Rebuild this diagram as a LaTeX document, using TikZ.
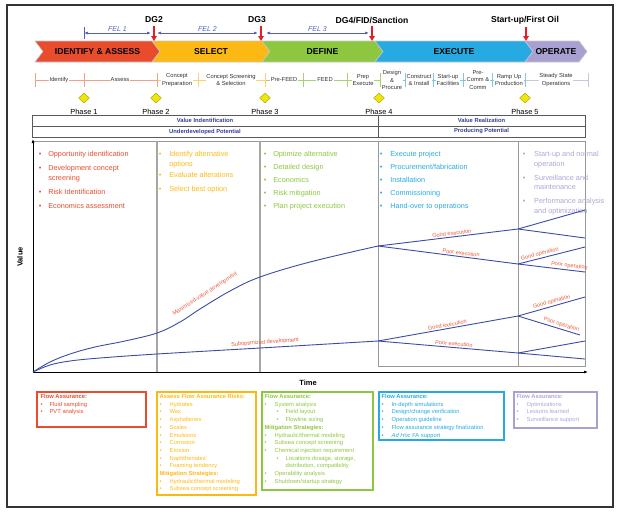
\documentclass[tikz,border=0pt]{standalone}
\usepackage{fontspec}
\setmainfont{Liberation Sans}
\usepackage{tikz}
\usetikzlibrary{arrows.meta}
\usetikzlibrary{positioning,shapes.geometric}

\definecolor{iared}{RGB}{232,76,45}
\definecolor{selyel}{RGB}{253,185,19}
\definecolor{defgrn}{RGB}{141,198,63}
\definecolor{exeblu}{RGB}{39,170,225}
\definecolor{opepur}{RGB}{168,160,208}
\definecolor{purtxt}{RGB}{172,165,212}
\definecolor{curveblu}{RGB}{58,76,165}
\definecolor{felblu}{RGB}{80,96,180}
\definecolor{gatered}{RGB}{228,30,38}
\definecolor{lblred}{RGB}{235,90,60}
\definecolor{bandblu}{RGB}{50,62,150}
\definecolor{phaseyel}{RGB}{240,228,10}
\definecolor{actred}{RGB}{240,160,140}
\definecolor{actyel}{RGB}{252,210,105}
\definecolor{actgrn}{RGB}{168,212,111}
\definecolor{actblu}{RGB}{124,200,236}
\definecolor{actpur}{RGB}{201,196,226}

\newcommand{\blist}[2][6.8pt]{\begin{tabular}[t]{@{}l@{\hspace{#1}}l@{}}#2\end{tabular}}
\newcommand{\bhead}[1]{\multicolumn{2}{@{}l@{}}{\bfseries #1}}
\newcommand{\subitm}[1]{\hspace{2pt}\textbullet\hspace{7pt}#1}

\begin{document}
\begin{tikzpicture}[x=1pt,y=-1pt]
  \tikzset{chev/.style = {draw=gray!45, line width=0.6pt}}
  \tikzset{chevtxt/.style = {font=\fontsize{8.6}{10}\selectfont\bfseries, inner sep=0pt}}
  \tikzset{gatelbl/.style = {font=\fontsize{8.6}{10}\selectfont\bfseries, inner sep=1pt}}
  \tikzset{gate/.style = {-{Triangle[length=5pt,width=5.5pt]}, gatered, line width=1.5pt, shorten <=2pt}}
  \tikzset{fel/.style = {{Latex[length=4pt,width=3pt]}-{Latex[length=4pt,width=3pt]}, felblu, line width=0.7pt}}
  \tikzset{fellbl/.style = {font=\fontsize{7}{8}\selectfont\itshape, text=felblu, inner sep=1pt}}
  \tikzset{actline/.style = {line width=0.8pt}}
  \tikzset{actlbl/.style = {font=\fontsize{5.8}{7.6}\selectfont, align=center, fill=white, inner sep=0.8pt, text=black!80}}
  \tikzset{phase/.style = {shape=diamond, fill=phaseyel, draw=phaseyel!70!black, line width=0.4pt, minimum width=11pt, minimum height=10pt, inner sep=0pt}}
  \tikzset{phaselbl/.style = {font=\fontsize{7.4}{9}\selectfont, inner sep=0.5pt}}
  \tikzset{band/.style = {draw=black!65, line width=0.8pt}}
  \tikzset{bandtxt/.style = {font=\fontsize{5.8}{7}\selectfont\bfseries, text=bandblu, inner sep=0pt}}
  \tikzset{panel/.style = {draw=black!40, line width=0.7pt}}
  \tikzset{divider/.style = {draw=black!35, line width=1.3pt}}
  \tikzset{axis/.style = {-{Latex[length=4pt,width=3pt]}, line width=0.7pt}}
  \tikzset{axislbl/.style = {font=\fontsize{7.5}{9}\selectfont\bfseries, inner sep=0pt}}
  \tikzset{coltxt/.style = {font=\fontsize{7.3}{9.5}\selectfont, anchor=base west, inner sep=0pt}}
  \tikzset{curve/.style = {curveblu, line width=0.9pt}}
  \tikzset{curvelbl/.style = {font=\fontsize{5.6}{6.5}\selectfont, text=lblred, inner sep=1.2pt}}
  \tikzset{fabox/.style = {shape=rectangle, draw, line width=1.2pt, inner sep=0pt}}
  \tikzset{fatxt/.style = {font=\fontsize{5.8}{7.7}\selectfont, anchor=north west, inner sep=1.5pt, xshift=1.5pt}}

  \useasboundingbox (0,0) rectangle (620,512);
  \draw[line width=1.6pt, black!80] (7,5) rectangle (613,507);

  % stage chevrons
  \foreach \name/\xa/\xb/\col/\txt in {ia/35/152/iared/IDENTIFY \& ASSESS, sel/152/262/selyel/SELECT,
      def/262/375/defgrn/DEFINE, exe/375/525/exeblu/EXECUTE, ope/525/579/opepur/OPERATE}
  {
    \filldraw[chev, fill=\col] (\xa,41) -- (\xb,41) -- ({\xb+8},51.5) -- (\xb,62) -- (\xa,62) -- ({\xa+8},51.5) -- cycle;
    \node[chevtxt] (\name) at ({(\xa+\xb)/2+4},51.5) {\txt};
  }

  % decision gates
  \node[gatelbl] (dg2) at (154,20) {DG2};
  \node[gatelbl] (dg3) at (257,20) {DG3};
  \node[gatelbl] (dg4) at (372,20) {DG4/FID/Sanction};
  \node[gatelbl] (fo) at (525,20) {Start-up/First Oil};
  \coordinate (g2) at (154,41);
  \coordinate (g3) at (261,41);
  \coordinate (g4) at (372,41);
  \coordinate (g5) at (526,41);
  \foreach \from/\to in {dg2/g2, dg3/g3, dg4/g4, fo/g5}
    \draw[gate] (\from.south -| \to) -- (\to);

  % front-end loading
  \coordinate (f1a) at (84,33);
  \coordinate (f1b) at (151,33);
  \coordinate (f2a) at (157,33);
  \coordinate (f2b) at (258,33);
  \coordinate (f3a) at (266,33);
  \coordinate (f3b) at (369,33);
  \draw[felblu, line width=0.7pt] ([yshift=6pt]f1a) -- ([yshift=-6pt]f1a);
  \draw[fel] (f1a) -- node[fellbl, above] (fel1) {FEL 1} (f1b);
  \draw[fel] (f2a) -- node[fellbl, above] (fel2) {FEL 2} (f2b);
  \draw[fel] (f3a) -- node[fellbl, above] (fel3) {FEL 3} (f3b);

  % activities
  \foreach \xa/\xb/\col in {35/157/actred, 157/265/actyel, 265/380/actgrn, 380/525/actblu, 525/588/actpur}
    \draw[actline, \col] (\xa,80) -- (\xb,80);
  \foreach \x/\col in {35/actred, 84/actred, 157/actred, 198/actyel, 265/actyel, 303/actgrn, 347/actgrn,
      380/actgrn, 405/actblu, 433/actblu, 463/actblu, 492/actblu, 525/actblu, 588/actpur}
    \draw[actline, \col] (\x,73) -- (\x,87);
  \foreach \name/\x/\txt in {aid/59/Identify, aas/120/Assess, acp/177/{Concept\\Preparation},
      acs/231/{Concept Screening\\\& Selection}, apf/284/Pre-FEED, afd/325/FEED, ape/363/{Prep\\Execute},
      adp/392/{Design\\\&\\Procure}, aci/419/{Construct\\\& Install}, asf/448/{Start-up\\Facilities},
      apc/478/{Pre-\\Comm \&\\Comm}, aru/509/{Ramp Up\\Production}, aso/556/{Steady State\\Operations}}
    \node[actlbl] (\name) at (\x,80) {\txt};

  % phases
  \foreach \name/\x/\n in {p1/84/1, p2/156/2, p3/265/3, p4/379/4, p5/525/5}
  {
    \node[phase] (\name) at (\x,98) {};
    \node[phaselbl, below=5pt of \name] (\name lbl) {Phase \n};
  }

  % value band
  \draw[band] (32,115) rectangle (585,137);
  \draw[band] (32,126) -- (585,126);
  \draw[band] (378,115) -- (378,137);
  \node[bandtxt] (vi) at (205,120.5) {Value Indentification};
  \node[bandtxt] (up) at (205,131.5) {Underdeveloped Potential};
  \node[bandtxt] (vr) at (481.5,120.5) {Value Realization};
  \node[bandtxt] (pp) at (481.5,131.5) {Producing Potential};

  % chart frame
  \draw[panel] (33,141) -- (585,141) -- (585,366) -- (378,366);
  \draw[divider] (157,141) -- (157,372);
  \draw[divider] (260,141) -- (260,372);
  \draw[panel] (378,141) -- (378,366);
  \draw[panel] (518,141) -- (518,366);
  \coordinate (o) at (33,372);
  \coordinate (ytop) at (33,139);
  \coordinate (xend) at (588,372);
  \draw[axis] (o) -- (ytop);
  \draw[axis] (o) -- (xend);
  \node[axislbl, rotate=90] (vlab) at (20,257) {Value};
  \node[axislbl] (tlab) at (308,383) {Time};

  % stage activities
  \node[coltxt, text=iared] (c1) at (38.7,156.5) {\blist[6.8pt]{\textbullet & Opportunity identification\\[4.5pt]
    \textbullet & Development concept\\ & screening\\[4.5pt] \textbullet & Risk Identification\\[4.5pt]
    \textbullet & Economics assessment}};
  \node[coltxt, text=selyel] (c2) at (158.7,156.5) {\blist[7.8pt]{\textbullet & Identify alternative\\ & options\\[2pt]
    \textbullet & Evaluate alterations\\[4.5pt] \textbullet & Select best option}};
  \node[coltxt, text=defgrn] (c3) at (263.7,156.5) {\blist[6.8pt]{\textbullet & Optimize alternative\\[3.5pt]
    \textbullet & Detailed design\\[3.5pt] \textbullet & Economics\\[3.5pt] \textbullet & Risk mitigation\\[3.5pt]
    \textbullet & Plan project execution}};
  \node[coltxt, text=exeblu] (c4) at (379.7,156.5) {\blist[7.8pt]{\textbullet & Execute project\\[3.5pt]
    \textbullet & Procurement/fabrication\\[3.5pt] \textbullet & Installation\\[3.5pt] \textbullet & Commissioning\\[3.5pt]
    \textbullet & Hand-over to operations}};
  \node[coltxt, text=purtxt] (c5) at (522.7,156.5) {\blist[8.7pt]{\textbullet & Start-up and normal\\ & operation\\[4.5pt]
    \textbullet & Surveillance and\\ & maintenance\\[4.5pt] \textbullet & Performance analysis\\ & and optimization}};

  % value curves
  \coordinate (m1) at (157,333);
  \coordinate (m2) at (260,277);
  \coordinate (m3) at (378,246);
  \coordinate (s3) at (378,341);
  \draw[curve] plot[smooth, tension=0.6] coordinates {(o) (50,362) (70,354) (95,347) (125,341) (m1) (180,322)
    (200,309) (230,291) (m2) (310,262) (m3)};
  \draw[curve] plot[smooth, tension=0.6] coordinates {(o) (50,365) (70,361) (100,358) (157,354) (260,348) (s3)};
  \node[curvelbl, rotate=33] (maxlbl) at (205,294) {Maximized-value development};
  \node[curvelbl, rotate=4] (sublbl) at (265,342.5) {Suboptimized development};

  \coordinate (mg) at (518,229);
  \coordinate (mp) at (518,264);
  \coordinate (mgg) at (585,210);
  \coordinate (mgp) at (585,238);
  \coordinate (mpg) at (585,247);
  \coordinate (mpp) at (585,272);
  \coordinate (sg) at (518,316);
  \coordinate (sp) at (518,353);
  \coordinate (sgg) at (585,297);
  \coordinate (sgp) at (580,335);
  \coordinate (spg) at (585,341);
  \coordinate (spp) at (585,359);

  \draw[curve] (m3) -- node[curvelbl, sloped, above, pos=0.53] (mge) {Good execution} (mg);
  \draw[curve] (m3) -- node[curvelbl, sloped, above, pos=0.59] (mpe) {Poor execution} (mp);
  \draw[curve] (mp) -- node[curvelbl, sloped, above, pos=0.34] (mgo) {Good operation} (mpg);
  \draw[curve] (mp) -- node[curvelbl, sloped, above, pos=0.76] (mpo) {Poor operation} (mpp);
  \draw[curve] (s3) -- node[curvelbl, sloped, above, pos=0.5] (sge) {Good execution} (sg);
  \draw[curve] (s3) -- node[curvelbl, sloped, above, pos=0.54] (spe) {Poor execution} (sp);
  \draw[curve] (sg) -- node[curvelbl, sloped, above, pos=0.52] (sgo) {Good operation} (sgg);
  \draw[curve] (sg) -- node[curvelbl, sloped, above, pos=0.68] (spo) {Poor operation} (sgp);
  \foreach \from/\to in {mg/mgg, mg/mgp, sp/spg, sp/spp}
    \draw[curve] (\from) -- (\to);

  % flow assurance boxes
  \node[fabox, draw=iared, minimum width=109pt, minimum height=35pt] (fa1) at (91.5,409.5) {};
  \node[fabox, draw=selyel, minimum width=99pt, minimum height=103pt] (fa2) at (206.5,443.5) {};
  \node[fabox, draw=defgrn, minimum width=111pt, minimum height=98pt] (fa3) at (317.5,441) {};
  \node[fabox, draw=exeblu, minimum width=125pt, minimum height=48pt] (fa4) at (441.5,416) {};
  \node[fabox, draw=opepur, minimum width=83pt, minimum height=36pt] (fa5) at (555.5,410) {};

  \node[fatxt, text=iared, xshift=1pt] (fa1t) at (fa1.north west) {\blist[7pt]{\bhead{Flow Assurance:}\\
    \textbullet & Fluid sampling\\ \textbullet & PVT analysis}};
  \node[fatxt, text=selyel] (fa2t) at (fa2.north west) {\blist[8pt]{\bhead{Assess Flow Assurance Risks:}\\
    \textbullet & Hydrates\\ \textbullet & Wax\\ \textbullet & Asphaltenes\\ \textbullet & Scales\\
    \textbullet & Emulsions\\ \textbullet & Corrosion\\ \textbullet & Erosion\\ \textbullet & Naphthenates'\\
    \textbullet & Foaming tendency\\ \bhead{Mitigation Strategies:}\\
    \textbullet & Hydraulic/thermal modeling\\ \textbullet & Subsea concept screening}};
  \node[fatxt, text=defgrn] (fa3t) at (fa3.north west) {\blist[8pt]{\bhead{Flow Assurance:}\\
    \textbullet & System analysis\\ & \subitm{Field layout}\\ & \subitm{Flowline sizing}\\
    \bhead{Mitigation Strategies:}\\ \textbullet & Hydraulic/thermal modeling\\
    \textbullet & Subsea concept screening\\ \textbullet & Chemical injection requirement\\
    & \subitm{Locations dosage, storage,}\\ & \hspace{11pt}distribution, compatibility\\
    \textbullet & Operability analysis\\ \textbullet & Shutdown/startup strategy}};
  \node[fatxt, text=exeblu] (fa4t) at (fa4.north west) {\blist[8pt]{\bhead{Flow Assurance:}\\
    \textbullet & In-depth simulations\\ \textbullet & Design/change verification\\
    \textbullet & Operation guideline\\ \textbullet & Flow assurance strategy finalization\\
    \textbullet & \textit{Ad Hoc} FA support}};
  \node[fatxt, text=purtxt] (fa5t) at (fa5.north west) {\blist[8pt]{\bhead{Flow Assurance:}\\
    \textbullet & Optimizations\\ \textbullet & Lessons learned\\ \textbullet & Surveillance support}};

\end{tikzpicture}
\end{document}
